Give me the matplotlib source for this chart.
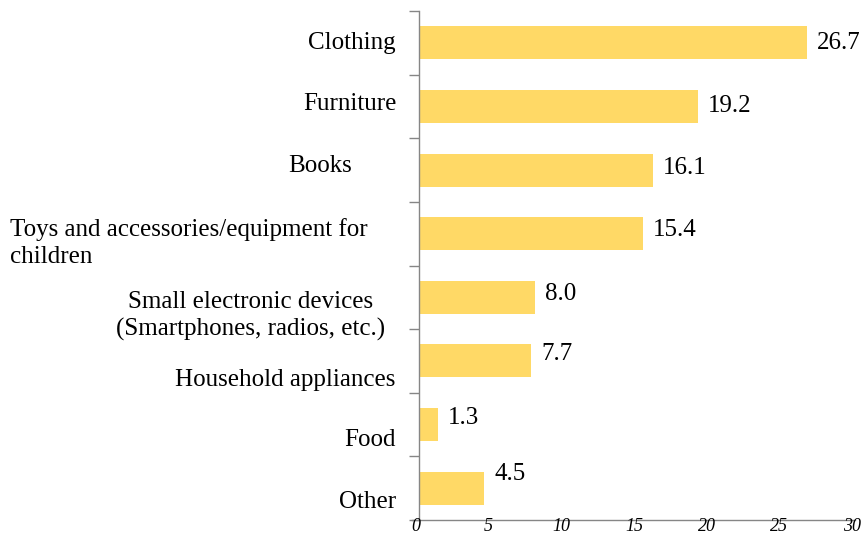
import matplotlib
matplotlib.use("Agg")
import matplotlib.pyplot as plt
import matplotlib.transforms as mtransforms

categories = ["Clothing", "Furniture", "Books",
              "Toys and accessories/equipment for\nchildren",
              "Small electronic devices\n(Smartphones, radios, etc.)",
              "Household appliances", "Food", "Other"]
values = [26.7, 19.2, 16.1, 15.4, 8.0, 7.7, 1.3, 4.5]
xticks = [0, 5, 10, 15, 20, 25, 30]

# layout: (x pixel anchor, ha, vertical pixel offset downward) for category labels
cat_layout = [(352, "center", 0), (350, "center", -2.5), (320, "center", -4),
              (10, "left", 9), (251, "center", 19), (285, "center", 19),
              (370, "center", 15), (368, "center", 14)]
val_dy = [0, 0, -2, -4, -3, -7, -7, -14]

plt.rcParams['font.family'] = ['Liberation Serif', 'DejaVu Serif']
W, H = 862, 535
fig = plt.figure(figsize=(W / 100, H / 100), dpi=100)
ax = fig.add_axes([419 / W, (H - 520) / H, (855 - 419) / W, (520 - 11) / H])

n = len(categories)
ypos = [n - 1 - i + 0.5 for i in range(n)]
ax.barh(ypos, values, height=0.52, color="#FFD966", zorder=2)
ax.set_xlim(0, 30)
ax.set_ylim(0, n)

gray = "#868686"
for s in ["top", "right"]:
    ax.spines[s].set_visible(False)
ax.spines["left"].set_color(gray)
ax.spines["bottom"].set_color(gray)
ax.spines["bottom"].set_bounds(-0.5, 30)
ax.spines["left"].set_linewidth(1.0)
ax.spines["bottom"].set_linewidth(1.0)

ax.set_yticks(range(n + 1))
ax.set_yticklabels([])
ax.tick_params(axis="y", direction="out", length=7, color=gray, width=1)
ax.set_xticks(xticks)
ax.set_xticklabels([])
ax.tick_params(axis="x", length=0)

xblend = mtransforms.blended_transform_factory(ax.transData, fig.transFigure)
for t in xticks:
    tr = xblend + mtransforms.ScaledTranslation(-3 / 100, 0, fig.dpi_scale_trans)
    ax.text(t, (H - 531) / H, str(t), transform=tr, ha="center", va="baseline",
            fontsize=13, style="italic", clip_on=False)

blend = mtransforms.blended_transform_factory(fig.transFigure, ax.transData)
for i, (cat, y) in enumerate(zip(categories, ypos)):
    xpx, ha, dy = cat_layout[i]
    tr = blend + mtransforms.ScaledTranslation(0, -dy / 100, fig.dpi_scale_trans)
    ax.text(xpx / W, y, cat, transform=tr, ha=ha, va="center",
            multialignment="left" if ha == "left" else "center",
            fontsize=18, linespacing=1.28)

for i, (v, y) in enumerate(zip(values, ypos)):
    tr = ax.transData + mtransforms.ScaledTranslation(10 / 100, -val_dy[i] / 100, fig.dpi_scale_trans)
    ax.text(v, y, f"{v:.1f}", transform=tr, ha="left", va="center", fontsize=18)

fig.savefig("out.png", dpi=100)
